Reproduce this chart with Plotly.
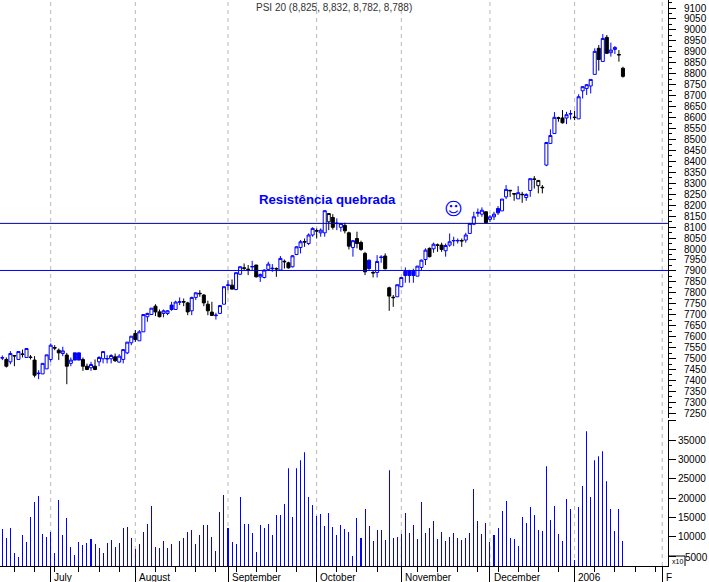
import plotly.graph_objects as go

opens = [7502,7496,7485,7514,7496,7521,7505,7507,7493,7431,7430,7453,7496,7550,7538,7523,7516,7478,7493,7493,
7496,7465,7458,7465,7485,7499,7498,7499,7508,7484,7496,7526,7572,7614,7581,7622,7691,7701,7739,7713,
7706,7706,7724,7724,7757,7760,7754,7718,7779,7798,7790,7748,7712,7696,7706,7748,7834,7835,7815,7885,
7914,7908,7918,7927,7873,7870,7907,7910,7911,7904,7944,7937,7919,7975,8007,8034,8025,8064,8084,8074,
8074,8124,8144,8116,8099,8108,8074,8007,8048,8030,7980,7911,7893,7893,7961,7968,7823,7780,7782,7828,
7879,7879,7879,7876,7916,7952,8003,8001,8019,8018,7992,8018,8037,8037,8039,8041,8071,8113,8163,8159,
8170,8135,8147,8165,8174,8238,8268,8253,8229,8250,8235,8267,8320,8289,8282,8383,8482,8527,8599,8598,
8598,8616,8602,8594,8722,8733,8744,8797,8916,8856,8966,8896,8911,8888,8825]
highs = [7514,7505,7534,7516,7532,7541,7546,7516,7511,7447,7478,7517,7569,7561,7546,7554,7526,7505,7526,7526,
7505,7477,7485,7496,7511,7532,7516,7520,7523,7520,7541,7575,7602,7630,7630,7701,7709,7730,7748,7724,
7724,7721,7759,7764,7779,7774,7759,7782,7803,7812,7794,7764,7759,7709,7742,7828,7858,7861,7892,7922,
7934,7927,7946,7927,7888,7907,7942,7931,7916,7968,7952,7942,7972,8013,8041,8048,8071,8099,8094,8094,
8175,8162,8159,8140,8117,8120,8079,8041,8079,8038,7987,7952,7904,7972,7972,7980,7828,7790,7837,7870,
7916,7905,7910,7922,7952,8003,8007,8029,8025,8029,8025,8071,8056,8048,8048,8074,8117,8170,8185,8190,
8172,8155,8170,8196,8228,8292,8269,8253,8287,8261,8254,8322,8333,8313,8292,8489,8546,8625,8604,8634,
8626,8634,8631,8706,8744,8753,8774,8916,8931,8981,8977,8942,8926,8908,8832]
lows = [7493,7459,7474,7465,7496,7505,7505,7496,7414,7406,7430,7453,7485,7538,7493,7511,7383,7465,7493,7493,
7444,7447,7444,7447,7465,7478,7478,7478,7485,7481,7478,7520,7561,7576,7581,7622,7668,7701,7694,7688,
7688,7698,7718,7724,7744,7739,7698,7698,7767,7782,7739,7698,7694,7678,7706,7748,7812,7815,7812,7881,
7904,7881,7904,7870,7850,7866,7904,7896,7873,7904,7911,7911,7916,7972,7980,8010,8018,8056,8048,8056,
8056,8086,8089,8086,8079,8071,7998,7965,8003,7992,7881,7904,7870,7870,7937,7907,7718,7736,7782,7825,
7846,7846,7846,7876,7904,7927,7962,7983,7987,7987,7965,8010,8013,8025,8010,8029,8071,8109,8147,8147,
8117,8124,8132,8155,8174,8228,8238,8220,8229,8211,8220,8238,8276,8254,8254,8378,8482,8527,8581,8573,
8570,8591,8588,8594,8687,8703,8710,8797,8814,8856,8890,8878,8890,8855,8782]
closes = [7504,7465,7523,7512,7532,7519,7546,7505,7424,7433,7478,7517,7561,7548,7526,7535,7465,7493,7526,7526,
7465,7450,7473,7450,7505,7532,7500,7514,7490,7511,7541,7575,7602,7587,7622,7701,7706,7730,7713,7691,
7718,7718,7744,7758,7759,7758,7713,7779,7800,7796,7754,7718,7697,7698,7742,7828,7836,7817,7892,7919,
7912,7906,7920,7873,7884,7904,7931,7912,7909,7957,7942,7914,7969,8010,8033,8032,8064,8094,8082,8086,
8175,8162,8099,8118,8117,8083,8013,8038,8025,7998,7896,7949,7891,7943,7963,7910,7785,7778,7837,7870,
7898,7901,7898,7922,7949,7995,7965,8022,8017,7998,8016,8033,8039,8039,8037,8064,8117,8147,8167,8177,
8120,8147,8159,8185,8228,8272,8266,8251,8257,8248,8249,8321,8318,8313,8280,8486,8518,8601,8597,8576,
8613,8618,8600,8695,8741,8750,8774,8902,8865,8961,8893,8908,8920,8886,8788]
volumes = [12046,9724,12304,5854,4822,10498,8692,15142,19012,20560,10756,9982,11272,5854,19528,10498,14884,7402,5338,8692,
7918,8434,9466,8176,7144,5854,8434,9208,7402,8434,12304,12562,9724,6886,8176,11272,13336,17980,7402,7144,
8950,7144,8176,None,8950,9724,11272,11788,8176,10498,13078,13078,9982,6370,16432,20818,12304,8692,8176,
20302,13336,13336,11014,6112,13078,12304,13336,10498,15658,15658,18496,27784,15142,27784,29848,31912,20302,18238,15400,
15916,12820,16174,12562,10498,13078,12046,11272,5080,14884,9724,17206,12820,8950,11788,11788,9208,27268,9724,9982,
10756,16174,11014,13078,9466,19012,11014,12304,14110,9466,11272,8950,9982,11014,9724,9208,9724,11014,
22366,14110,10756,13594,8692,10498,12304,16690,19270,9724,9466,7660,15142,13594,17722,15658,11788,11530,28300,14368,
17980,10756,8950,19786,17206,4048,17722,23140,37330,20302,29848,30880,32170,24430,17206,11530,17206,8950]
solid_blue = [18,19,42,91,100,101,102,123]
hollow_black = [81,133]
month_labels = ["July","August","September","October","November","December","2006","F"]
month_pos = [12,33,56,78,99,121,142,163.75]
week_pos = [3,8,13,19,24,29,38,43,48,53,58,63,68,73,83,88,93,103,108,113,118,123,128,133,138,147,152,157,162]
price_ticks = list(range(7250,9101,50))
vol_ticks = [5000,10000,15000,20000,25000,30000,35000,40000]
vol_text = ["","10000","15000","20000","25000","30000","35000",""]
support_levels = [8117,7902]

W,H = 709,582
PW,PH = 668,566
X_RANGE = [-0.578,165.18]
def ypaper(px): return (PH-px)/PH
idx = list(range(len(closes)))
rest = [i for i in idx if i not in solid_blue and i not in hollow_black]
def candle(ids, up_line, up_fill, dn_line, dn_fill):
    return go.Candlestick(x=ids, open=[opens[i] for i in ids], high=[highs[i] for i in ids],
        low=[lows[i] for i in ids], close=[closes[i] for i in ids], whiskerwidth=0,
        increasing=dict(line=dict(color=up_line,width=1),fillcolor=up_fill),
        decreasing=dict(line=dict(color=dn_line,width=1),fillcolor=dn_fill),
        xaxis="x",yaxis="y",showlegend=False,hoverinfo="skip")
fig = go.Figure()
fig.add_trace(go.Bar(x=idx,y=volumes,width=0.01,marker=dict(color="#0000ff",line=dict(width=0)),
                     xaxis="x2",yaxis="y2",showlegend=False,hoverinfo="skip"))
fig.add_trace(candle(rest,"#0000ff","#ffffff","#000000","#000000"))
fig.add_trace(candle(solid_blue,"#0000ff","#0000ff","#0000ff","#0000ff"))
fig.add_trace(candle(hollow_black,"#000000","#ffffff","#000000","#ffffff"))

shapes = [dict(type="line",xref="x",yref="paper",x0=m,x1=m,y0=0,y1=1,layer="below",
               line=dict(color="#b8b8b8",width=1,dash="4px,4px")) for m in month_pos]
shapes += [dict(type="line",xref="paper",yref="y",x0=0,x1=1,y0=v,y1=v,layer="above",
                line=dict(color=c,width=1)) for v,c in zip(support_levels,["#0000a8","#0000ff"])]
shapes += [dict(type="line",xref="paper",yref="paper",x0=1,x1=1+17/PW,y0=ypaper(556),y1=ypaper(556),
                line=dict(color="#000",width=1)),
           dict(type="line",xref="paper",yref="paper",x0=1+17/PW,x1=1+17/PW,y0=ypaper(556),y1=0,
                line=dict(color="#000",width=1))]

ann = [dict(x=m+0.4,y=ypaper(577),xref="x",yref="paper",text=t,showarrow=False,xanchor="left",yanchor="middle",
            font=dict(size=10,color="#000")) for m,t in zip(month_pos,month_labels)]
def note(px,py,text,**font):
    return dict(x=px/PW,y=ypaper(py),xref="paper",yref="paper",text=text,showarrow=False,
                xanchor="center",yanchor="middle",font=font)
ann += [note(327.5,200,"<b>Resistência quebrada</b>",size=13.2,color="#0000ff",family="Liberation Sans"),
        note(453,209,"☺",size=18,color="#0000ff",family="DejaVu Sans"),
        note(334,8,"PSI 20 (8,825, 8,832, 8,782, 8,788)",size=10,color="#333333"),
        note(677,561.5,"x10",size=7,color="#000"),
        note(696,557,"5000",size=10,color="#000")]

fig.update_layout(
    width=W,height=H,margin=dict(l=0,r=W-PW,t=0,b=H-PH,pad=0),
    paper_bgcolor="#fff",plot_bgcolor="#fff",showlegend=False,boxgap=0.25,boxgroupgap=0,
    font=dict(family="Liberation Sans, Arial, sans-serif",size=10,color="#000"),
    shapes=shapes,annotations=ann,
    xaxis=dict(domain=[0,1],anchor="y2",range=X_RANGE,rangeslider=dict(visible=False),
               showgrid=False,zeroline=False,showline=True,linecolor="#000",linewidth=1,
               tickmode="array",tickvals=month_pos,ticktext=[""]*len(month_pos),ticks="outside",ticklen=16,
               tickcolor="#000",tickwidth=1),
    xaxis2=dict(domain=[0,1],anchor="y2",overlaying="x",side="bottom",range=X_RANGE,
               showgrid=False,zeroline=False,showline=False,
               tickmode="array",tickvals=week_pos,ticktext=[""]*len(week_pos),ticks="outside",ticklen=5,
               tickcolor="#000",tickwidth=1),
    yaxis=dict(domain=[ypaper(418),1],anchor="x",side="right",range=[9100-(418-8)/0.2191,9100+8/0.2191],
               showgrid=False,zeroline=False,showline=True,linecolor="#000",linewidth=1,
               tickmode="array",tickvals=price_ticks,ticks="outside",ticklen=7,tickcolor="#000",tickwidth=1,
               ticklabelstandoff=6,tickfont=dict(size=10),
               minor=dict(tickmode="linear",tick0=7250,dtick=25,ticks="outside",ticklen=3,tickcolor="#000",tickwidth=1,showgrid=False)),
    yaxis2=dict(domain=[0,ypaper(420)],anchor="x",side="right",range=[2500,2500+146/0.00387],
               showgrid=False,zeroline=False,showline=True,linecolor="#000",linewidth=1,
               tickmode="array",tickvals=vol_ticks,ticktext=vol_text,ticks="outside",ticklen=7,tickcolor="#000",tickwidth=1,
               tickfont=dict(size=10)),
)
fig.write_html("out.html",config={"displayModeBar":False},post_script="document.body.style.margin='0';")
